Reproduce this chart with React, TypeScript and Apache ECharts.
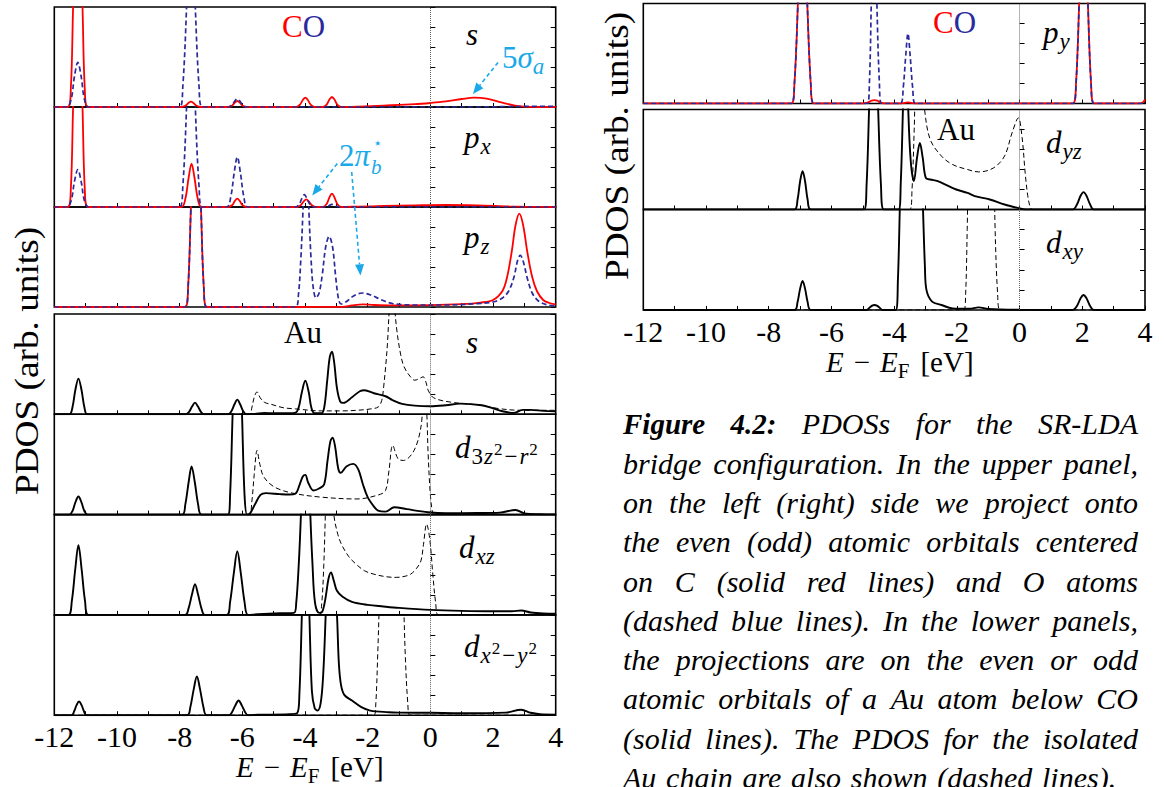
import React, { useEffect, useRef } from 'react';
import * as echarts from 'echarts';

// ---------------- data ----------------
const X_MIN = -12;
const X_MAX = 4;
const X_TICK_LABELS = [-12, -10, -8, -6, -4, -2, 0, 2, 4];
const Y_MAX = 5;

// CO, s (left, panel 1)
const coS_C = [
  [-12, 0], [-11.57, 0], [-11.47, 1.0], [-11.4, 5], [-11.25, 12], [-11.1, 5], [-11.03, 1.0], [-10.93, 0],
  [-7.95, 0], [-7.82, 0.06], [-7.72, 0.2], [-7.64, 0.27], [-7.56, 0.2], [-7.46, 0.06], [-7.33, 0],
  [-6.45, 0], [-6.32, 0.08], [-6.24, 0.22], [-6.16, 0.3], [-6.08, 0.22], [-6.0, 0.08], [-5.87, 0],
  [-4.28, 0], [-4.16, 0.12], [-4.07, 0.35], [-3.99, 0.47], [-3.91, 0.35], [-3.82, 0.12], [-3.7, 0],
  [-3.43, 0], [-3.31, 0.12], [-3.22, 0.37], [-3.14, 0.5], [-3.06, 0.37], [-2.97, 0.12], [-2.85, 0],
  [-2.3, 0.02], [-1.5, 0.07], [-0.5, 0.14], [0, 0.2], [0.5, 0.28], [1.0, 0.4], [1.4, 0.47], [1.8, 0.42],
  [2.3, 0.22], [2.7, 0.07], [3.1, 0.01], [4, 0],
];
const coS_O = [
  [-12, 0], [-11.6, 0], [-11.46, 0.4], [-11.36, 1.5], [-11.25, 2.23], [-11.14, 1.5], [-11.04, 0.4], [-10.9, 0],
  [-8.0, 0], [-7.9, 1.0], [-7.78, 5], [-7.64, 12], [-7.5, 5], [-7.38, 1.0], [-7.28, 0],
  [-6.45, 0], [-6.32, 0.12], [-6.24, 0.3], [-6.16, 0.4], [-6.08, 0.3], [-6.0, 0.12], [-5.87, 0],
  [1.5, 0], [2.5, 0.02], [3.5, 0.03], [4, 0.03],
];
// CO, p_x (left, panel 2)
const coPx_C = [
  [-12, 0], [-11.57, 0], [-11.47, 1.0], [-11.4, 5], [-11.25, 12], [-11.1, 5], [-11.03, 1.0], [-10.93, 0],
  [-7.95, 0], [-7.82, 0.4], [-7.71, 1.5], [-7.62, 2.17], [-7.53, 1.5], [-7.42, 0.4], [-7.3, 0],
  [-6.45, 0], [-6.32, 0.1], [-6.24, 0.3], [-6.16, 0.42], [-6.08, 0.3], [-6.0, 0.1], [-5.87, 0],
  [-4.25, 0], [-4.13, 0.1], [-4.04, 0.28], [-3.96, 0.38], [-3.88, 0.28], [-3.79, 0.1], [-3.67, 0],
  [-3.43, 0], [-3.31, 0.15], [-3.22, 0.48], [-3.14, 0.67], [-3.06, 0.48], [-2.97, 0.15], [-2.85, 0],
  [-2.3, 0.02], [-1.5, 0.05], [-0.5, 0.08], [0.5, 0.1], [1.5, 0.08], [2.5, 0.03], [3.1, 0.01], [4, 0],
];
const coPx_O = [
  [-12, 0], [-11.6, 0], [-11.46, 0.33], [-11.36, 1.25], [-11.25, 1.87], [-11.14, 1.25], [-11.04, 0.33], [-10.9, 0],
  [-8.0, 0], [-7.9, 1.0], [-7.78, 5], [-7.64, 12], [-7.5, 5], [-7.38, 1.0], [-7.28, 0],
  [-6.5, 0], [-6.37, 0.5], [-6.26, 1.7], [-6.16, 2.5], [-6.06, 1.7], [-5.95, 0.5], [-5.82, 0],
  [-4.3, 0], [-4.18, 0.15], [-4.1, 0.43], [-4.02, 0.62], [-3.94, 0.43], [-3.85, 0.15], [-3.72, 0],
  [-3.4, 0], [-3.26, 0.05], [-3.14, 0.13], [-3.02, 0.05], [-2.9, 0], [4, 0],
];
// CO, p_z (left, panel 3)
const coPz_C = [
  [-12, 0], [-7.83, 0], [-7.73, 1.0], [-7.64, 5], [-7.48, 12], [-7.32, 5], [-7.23, 1.0], [-7.13, 0],
  [-4.5, 0], [-2.8, 0.01], [-2.5, 0.08], [-2.15, 0.13], [-1.8, 0.1], [-1.2, 0.08], [0, 0.09], [1.0, 0.14],
  [1.6, 0.22], [2.0, 0.35], [2.3, 0.8], [2.45, 1.5], [2.6, 2.8], [2.72, 4.1], [2.84, 4.67], [2.96, 4.1],
  [3.1, 2.7], [3.25, 1.5], [3.4, 0.8], [3.6, 0.35], [3.8, 0.2], [4, 0.13],
];
const coPz_O = [
  [-12, 0], [-7.83, 0], [-7.73, 1.0], [-7.64, 5], [-7.48, 12], [-7.32, 5], [-7.23, 1.0], [-7.13, 0],
  [-4.3, 0], [-4.21, 0.6], [-4.13, 2.5], [-4.06, 5], [-3.97, 9], [-3.88, 5], [-3.81, 2.5], [-3.74, 1.0],
  [-3.65, 0.45], [-3.55, 0.7], [-3.45, 1.6], [-3.34, 3.0], [-3.23, 3.53], [-3.12, 3.0], [-3.02, 1.5],
  [-2.93, 0.4], [-2.85, 0.15], [-2.7, 0.25], [-2.45, 0.55], [-2.17, 0.7], [-1.9, 0.6], [-1.55, 0.35],
  [-1.2, 0.17], [-0.5, 0.1], [0.5, 0.1], [1.5, 0.17], [2.0, 0.25], [2.3, 0.45], [2.5, 0.8], [2.67, 1.5],
  [2.78, 2.3], [2.87, 2.58], [2.96, 2.3], [3.1, 1.4], [3.25, 0.7], [3.45, 0.3], [3.7, 0.12], [4, 0.05],
];
// Au, s (left, panel 4)
const auS = [
  [-12, 0], [-11.52, 0], [-11.42, 0.35], [-11.33, 1.2], [-11.23, 1.78], [-11.13, 1.2], [-11.04, 0.35], [-10.94, 0],
  [-7.8, 0], [-7.7, 0.12], [-7.6, 0.4], [-7.51, 0.58], [-7.42, 0.4], [-7.32, 0.12], [-7.22, 0],
  [-6.45, 0], [-6.35, 0.15], [-6.25, 0.5], [-6.16, 0.73], [-6.07, 0.5], [-5.97, 0.15], [-5.87, 0],
  [-5.6, 0.02], [-5.3, 0.07], [-5.0, 0.05], [-4.5, 0.05], [-4.3, 0.08],
  [-4.2, 0.35], [-4.1, 1.1], [-3.99, 1.67], [-3.88, 1.1], [-3.8, 0.35], [-3.7, 0.06], [-3.47, 0.05],
  [-3.38, 0.4], [-3.29, 1.7], [-3.21, 2.85], [-3.14, 3.12], [-3.07, 2.6], [-2.98, 1.3], [-2.88, 0.65],
  [-2.78, 0.57], [-2.5, 0.85], [-2.25, 1.15], [-2.1, 1.2], [-1.8, 1.05], [-1.43, 0.9], [-1.2, 0.7],
  [-0.9, 0.52], [-0.5, 0.43], [0, 0.4], [0.5, 0.45], [0.96, 0.53], [1.64, 0.45], [2.0, 0.3], [2.3, 0.15],
  [2.67, 0.07], [2.95, 0.22], [3.2, 0.22], [3.6, 0.17], [4, 0.15],
];
const auS_chain = [
  [-12, 0], [-5.76, 0], [-5.7, 0.3], [-5.62, 0.85], [-5.53, 1.12], [-5.44, 0.85], [-5.3, 0.6], [-5.08, 0.5],
  [-4.7, 0.33], [-4.3, 0.27], [-3.48, 0.17], [-2.8, 0.17], [-2.34, 0.2], [-1.9, 0.27], [-1.66, 0.37],
  [-1.55, 0.7], [-1.49, 1.37], [-1.42, 2.5], [-1.37, 3.5], [-1.3, 5.5], [-1.22, 7], [-1.15, 5.5],
  [-1.07, 4.2], [-0.95, 3.0], [-0.84, 2.37], [-0.65, 1.9], [-0.5, 1.7], [-0.35, 1.78], [-0.23, 1.87],
  [-0.14, 1.6], [-0.07, 1.2], [0.1, 0.83], [0.6, 0.62], [1.6, 0.45], [2.2, 0.28], [2.9, 0.2], [4, 0.2],
];
// Au, d_{3z^2-r^2} (left, panel 5)
const auD3 = [
  [-12, 0], [-11.52, 0], [-11.42, 0.18], [-11.33, 0.6], [-11.23, 0.9], [-11.13, 0.6], [-11.04, 0.18], [-10.94, 0],
  [-7.92, 0], [-7.82, 0.5], [-7.71, 1.65], [-7.62, 2.4], [-7.52, 1.65], [-7.41, 0.5], [-7.3, 0],
  [-6.46, 0], [-6.39, 1.0], [-6.31, 5], [-6.16, 12], [-6.01, 5], [-5.93, 1.0], [-5.85, 0],
  [-5.76, 0.05], [-5.6, 0.5], [-5.42, 0.98], [-5.25, 1.07], [-4.8, 1.02], [-4.5, 1.0], [-4.3, 1.05],
  [-4.17, 1.5], [-4.07, 1.9], [-3.99, 1.98], [-3.9, 1.6], [-3.73, 1.2], [-3.55, 1.3], [-3.39, 1.5],
  [-3.28, 2.7], [-3.19, 3.65], [-3.12, 3.83], [-3.04, 3.4], [-2.94, 2.3], [-2.86, 2.08], [-2.68, 2.4],
  [-2.46, 2.53], [-2.3, 2.25], [-2.15, 1.5], [-2.0, 0.87], [-1.8, 0.4], [-1.67, 0.2], [-1.43, 0.15],
  [-1.15, 0.37], [-0.75, 0.27], [-0.07, 0.12], [0.5, 0.07], [1.5, 0.08], [2.21, 0.1], [2.72, 0.23],
  [3.0, 0.06], [3.5, 0.02], [4, 0.01],
];
const auD3_chain = [
  [-12, 0], [-5.78, 0], [-5.7, 0.6], [-5.62, 2.0], [-5.53, 3.2], [-5.44, 2.5], [-5.31, 1.87], [-4.97, 1.37],
  [-4.39, 1.07], [-3.48, 0.87], [-2.34, 0.78], [-1.66, 0.98], [-1.43, 1.2], [-1.32, 2.2], [-1.2, 3.45],
  [-1.03, 2.78], [-0.86, 2.7], [-0.52, 3.2], [-0.3, 4.37], [-0.2, 6], [-0.13, 5.5], [-0.07, 3.0],
  [0.0, 1.0], [0.07, 0.1], [0.12, 0], [4, 0],
];
// Au, d_xz (left, panel 6)
const auDxz = [
  [-12, 0], [-11.55, 0], [-11.44, 0.7], [-11.33, 2.3], [-11.23, 3.48], [-11.13, 2.3], [-11.02, 0.7], [-10.91, 0],
  [-7.82, 0], [-7.72, 0.3], [-7.61, 1.0], [-7.51, 1.53], [-7.41, 1.0], [-7.3, 0.3], [-7.2, 0],
  [-6.5, 0], [-6.39, 0.65], [-6.27, 2.1], [-6.16, 3.17], [-6.05, 2.1], [-5.93, 0.65], [-5.82, 0],
  [-5.5, 0.03], [-4.8, 0.08], [-4.35, 0.1],
  [-4.28, 0.6], [-4.2, 2.5], [-4.13, 5], [-3.98, 12], [-3.83, 5], [-3.76, 2.5], [-3.68, 0.6], [-3.55, 0.1],
  [-3.45, 0.15], [-3.35, 0.8], [-3.25, 1.8], [-3.17, 2.12], [-3.08, 1.7], [-2.98, 1.2], [-2.8, 0.9],
  [-2.5, 0.65], [-2.0, 0.5], [-1.5, 0.42], [-1.0, 0.35], [0, 0.25], [1.0, 0.2], [2.0, 0.18], [2.6, 0.18],
  [2.9, 0.22], [3.2, 0.12], [3.6, 0.07], [4, 0.06],
];
const auDxz_chain = [
  [-12, 0], [-3.55, 0], [-3.47, 0.5], [-3.4, 2.5], [-3.33, 6], [-3.25, 9], [-3.16, 7], [-3.08, 5],
  [-2.95, 4.0], [-2.83, 3.5], [-2.6, 2.9], [-2.37, 2.53], [-2.1, 2.2], [-1.8, 2.03], [-1.4, 1.9],
  [-1.09, 1.87], [-0.8, 1.93], [-0.63, 2.03], [-0.45, 2.3], [-0.3, 2.7], [-0.22, 3.5], [-0.12, 4.53],
  [-0.02, 3.8], [0.08, 2.0], [0.17, 0.6], [0.26, 0], [4, 0],
];
// Au, d_{x^2-y^2} (left, panel 7)
const auDx2 = [
  [-12, 0], [-11.45, 0], [-11.36, 0.22], [-11.29, 0.5], [-11.21, 0.68], [-11.13, 0.5], [-11.06, 0.22], [-10.97, 0],
  [-7.76, 0], [-7.66, 0.4], [-7.55, 1.3], [-7.45, 1.93], [-7.35, 1.3], [-7.24, 0.4], [-7.14, 0],
  [-6.42, 0], [-6.33, 0.15], [-6.22, 0.5], [-6.12, 0.73], [-6.02, 0.5], [-5.91, 0.15], [-5.82, 0],
  [-5.5, 0.02], [-4.5, 0.05], [-4.25, 0.1], [-4.18, 1.0], [-4.1, 5], [-3.98, 11], [-3.86, 5], [-3.78, 1.2],
  [-3.69, 0.35], [-3.6, 0.23], [-3.5, 0.6], [-3.42, 2.0], [-3.34, 5], [-3.25, 9], [-3.1, 8], [-2.98, 5],
  [-2.92, 2.6], [-2.85, 1.5], [-2.74, 1.0], [-2.5, 0.73], [-2.2, 0.4], [-1.92, 0.23], [-1.33, 0.15],
  [-1.0, 0.13], [0, 0.12], [1, 0.1], [2.4, 0.13], [2.9, 0.27], [3.2, 0.12], [3.5, 0.05], [4, 0.03],
];
const auDx2_chain = [
  [-12, 0], [-1.8, 0], [-1.74, 0.6], [-1.68, 3], [-1.62, 6], [-1.5, 12], [-1.0, 12], [-0.86, 6],
  [-0.8, 3], [-0.72, 0.6], [-0.65, 0], [4, 0],
];
// CO, p_y (right, panel 1)
const coPy_C = [
  [-12, 0], [-7.28, 0], [-7.18, 1.0], [-7.07, 5], [-6.92, 12], [-6.77, 5], [-6.66, 1.0], [-6.56, 0],
  [-5.0, 0], [-4.85, 0.04], [-4.72, 0.14], [-4.63, 0.17], [-4.54, 0.14], [-4.42, 0.04], [-4.3, 0],
  [-3.8, 0], [-3.66, 0.03], [-3.56, 0.06], [-3.46, 0.03], [-3.3, 0],
  [1.7, 0], [1.8, 1.0], [1.9, 5], [2.04, 12], [2.18, 5], [2.28, 1.0], [2.38, 0], [3.85, 0], [3.95, 0.08], [4, 0.2],
];
const coPy_O = [
  [-12, 0], [-7.28, 0], [-7.18, 1.0], [-7.07, 5], [-6.92, 12], [-6.77, 5], [-6.66, 1.0], [-6.56, 0],
  [-4.86, 0], [-4.79, 1.0], [-4.73, 5], [-4.64, 12], [-4.55, 5], [-4.47, 1.0], [-4.4, 0],
  [-3.8, 0], [-3.71, 0.8], [-3.63, 2.4], [-3.56, 3.5], [-3.49, 2.4], [-3.41, 0.8], [-3.32, 0],
  [1.7, 0], [1.8, 1.0], [1.9, 5], [2.04, 12], [2.18, 5], [2.28, 1.0], [2.38, 0], [4, 0],
];
// Au, d_yz (right, panel 2)
const auDyz = [
  [-12, 0], [-7.18, 0], [-7.08, 0.5], [-7.0, 1.4], [-6.92, 1.92], [-6.84, 1.4], [-6.76, 0.5], [-6.66, 0],
  [-4.96, 0], [-4.88, 1.2], [-4.8, 5], [-4.66, 12], [-4.51, 5], [-4.42, 1.2], [-4.33, 0],
  [-3.86, 0], [-3.79, 1.3], [-3.72, 5], [-3.63, 10], [-3.55, 5], [-3.47, 2.4], [-3.37, 1.42], [-3.27, 2.6],
  [-3.18, 3.33], [-3.09, 2.6], [-2.99, 1.58], [-2.85, 1.5], [-2.61, 1.42], [-2.26, 1.17], [-2.02, 1.0],
  [-1.66, 0.83], [-1.43, 0.67], [-0.95, 0.5], [-0.48, 0.25], [-0.06, 0.08], [0.2, 0],
  [1.7, 0], [1.83, 0.25], [1.95, 0.7], [2.04, 0.87], [2.13, 0.7], [2.25, 0.25], [2.37, 0], [4, 0],
];
const auDyz_chain = [
  [-12, 0], [-3.5, 0], [-3.43, 1.0], [-3.36, 4], [-3.28, 8], [-3.15, 7], [-3.03, 5], [-2.85, 3.5],
  [-2.49, 2.67], [-2.14, 2.25], [-1.66, 2.0], [-1.31, 1.88], [-0.83, 2.08], [-0.48, 2.67], [-0.24, 3.83],
  [-0.04, 4.58], [0.08, 3.6], [0.18, 1.8], [0.26, 0.7], [0.34, 0.1], [0.4, 0], [4, 0],
];
// Au, d_xy (right, panel 3)
const auDxy = [
  [-12, 0], [-7.18, 0], [-7.08, 0.4], [-7.0, 1.05], [-6.92, 1.45], [-6.84, 1.05], [-6.76, 0.4], [-6.66, 0],
  [-4.88, 0], [-4.78, 0.12], [-4.7, 0.22], [-4.63, 0.25], [-4.55, 0.22], [-4.47, 0.12], [-4.37, 0],
  [-3.95, 0], [-3.88, 1.5], [-3.82, 5], [-3.75, 9], [-3.4, 10], [-3.15, 8], [-3.08, 5], [-3.02, 2.2],
  [-2.97, 1.0], [-2.79, 0.42], [-2.49, 0.25], [-2.14, 0.08], [-1.6, 0.06], [-1.31, 0.13], [-1.0, 0.05], [0, 0.01],
  [1.7, 0], [1.83, 0.2], [1.95, 0.6], [2.04, 0.75], [2.13, 0.6], [2.25, 0.2], [2.37, 0], [4, 0],
];
const auDxy_chain = [
  [-12, 0], [-1.78, 0], [-1.72, 0.8], [-1.67, 4], [-1.6, 9], [-1.2, 12], [-0.85, 9], [-0.78, 4],
  [-0.7, 0.8], [-0.62, 0], [4, 0],
];

const PANEL_SERIES: [string, number[][]][][] = [
  [['C', coS_C], ['O', coS_O]],
  [['C', coPx_C], ['O', coPx_O]],
  [['C', coPz_C], ['O', coPz_O]],
  [['chain', auS_chain], ['Au', auS]],
  [['chain', auD3_chain], ['Au', auD3]],
  [['chain', auDxz_chain], ['Au', auDxz]],
  [['chain', auDx2_chain], ['Au', auDx2]],
  [['C', coPy_C], ['O', coPy_O]],
  [['chain', auDyz_chain], ['Au', auDyz]],
  [['chain', auDxy_chain], ['Au', auDxy]],
];

const CAPTION_LINES = [
  'Figure 4.2: PDOSs for the SR-LDA',
  'bridge configuration. In the upper panel,',
  'on the left (right) side we project onto',
  'the even (odd) atomic orbitals centered',
  'on C (solid red lines) and O atoms',
  '(dashed blue lines). In the lower panels,',
  'the projections are on the even or odd',
  'atomic orbitals of a Au atom below CO',
  '(solid lines). The PDOS for the isolated',
  'Au chain are also shown (dashed lines).',
];

// annotation arrows in data coordinates: [grid, x, y]
const ARROWS = [
  { from: [0, 2.16, 2.23], to: [0, 1.36, 0.65] },
  { from: [1, -2.97, 2.17], to: [1, -3.77, 0.58] },
  { from: [1, -2.51, 1.75], to: [2, -2.23, 1.58] },
];

// ---------------- layout & style ----------------
const W = 1164;
const H = 787;
const FONT = 'Liberation Serif, DejaVu Serif, serif';
const RED = '#ff0000';
const BLUE = '#2a2a9c';
const CYAN = '#1aa9e8';

const GRIDS = [
  { left: 54.3, top: 7, width: 501.4, height: 100 },
  { left: 54.3, top: 107, width: 501.4, height: 100 },
  { left: 54.3, top: 207, width: 501.4, height: 100 },
  { left: 54.3, top: 314, width: 501.4, height: 100.3 },
  { left: 54.3, top: 414.3, width: 501.4, height: 100.3 },
  { left: 54.3, top: 514.6, width: 501.4, height: 100.3 },
  { left: 54.3, top: 614.9, width: 501.4, height: 100.3 },
  { left: 643.3, top: 3.5, width: 501.7, height: 100 },
  { left: 643.3, top: 109.5, width: 501.7, height: 100 },
  { left: 643.3, top: 209.5, width: 501.7, height: 100.5 },
];
const LABEL_GRIDS = [6, 9];

const LINE_STYLES: Record<string, any> = {
  C: { color: RED, width: 1.8, type: 'solid' },
  O: { color: BLUE, width: 1.7, type: [5, 3] },
  Au: { color: '#000', width: 1.9, type: 'solid' },
  chain: { color: '#000', width: 1, type: [5, 3] },
};

let measureCtx: CanvasRenderingContext2D | null = null;
function measure(text: string, style: string, weight: string, size: number) {
  if (!measureCtx) measureCtx = document.createElement('canvas').getContext('2d');
  measureCtx!.font = `${style} ${weight} ${size}px ${FONT}`;
  return measureCtx!.measureText(text).width;
}

const BASE_K = 0.3375; // central -> alphabetic baseline offset (em)

type Piece = { t: string; s: number; it?: boolean; b?: boolean; dy?: number; dx?: number; c?: string; back?: boolean };
function mathText(x: number, base: number, pieces: Piece[], color = '#000') {
  const els: any[] = [];
  let cx = x;
  let prevX = x;
  for (const p of pieces) {
    const fs = p.it ? 'italic' : 'normal';
    const fw = p.b ? 'bold' : 'normal';
    if (p.back) cx = prevX;
    cx += p.dx ?? 0;
    const w = measure(p.t, fs, fw, p.s);
    els.push({
      type: 'text', x: cx, y: base + (p.dy ?? 0) - BASE_K * p.s, silent: true, z: 50,
      style: {
        text: p.t, fill: p.c ?? color, fontSize: p.s, fontFamily: FONT, fontStyle: fs, fontWeight: fw,
        lineHeight: Math.round(p.s * 0.78), align: 'left', verticalAlign: 'middle',
      },
    });
    prevX = cx;
    cx += w;
  }
  return els;
}

const M = 31;
const S = 23;
const SS = 17;
const AX = 29;

function labelElements() {
  const els: any[] = [];
  // CO labels
  els.push(...mathText(282, 37, [{ t: 'C', s: M, c: RED }, { t: 'O', s: M, c: BLUE }]));
  els.push(...mathText(933, 33, [{ t: 'C', s: M, c: RED }, { t: 'O', s: M, c: BLUE }]));
  // Au labels
  els.push(...mathText(284, 343, [{ t: 'Au', s: M }]));
  els.push(...mathText(937, 140, [{ t: 'Au', s: M }]));
  // orbital labels
  els.push(...mathText(466, 45, [{ t: 's', s: M, it: true }]));
  els.push(...mathText(464, 148, [{ t: 'p', s: M, it: true }, { t: 'x', s: S, it: true, dy: 6, dx: 1 }]));
  els.push(...mathText(464, 248, [{ t: 'p', s: M, it: true }, { t: 'z', s: S, it: true, dy: 6, dx: 1 }]));
  els.push(...mathText(466, 353, [{ t: 's', s: M, it: true }]));
  els.push(...mathText(455, 458, [
    { t: 'd', s: M, it: true }, { t: '3', s: S, dy: 6, dx: 1 }, { t: 'z', s: S, it: true, dy: 6, dx: 1 },
    { t: '2', s: SS, dy: -3, dx: 1 }, { t: '−', s: S, dy: 6, dx: 2 }, { t: 'r', s: S, it: true, dy: 6, dx: 2 },
    { t: '2', s: SS, dy: -3, dx: 1 },
  ]));
  els.push(...mathText(459, 558, [{ t: 'd', s: M, it: true }, { t: 'xz', s: S, it: true, dy: 6, dx: 1 }]));
  els.push(...mathText(464, 657, [
    { t: 'd', s: M, it: true }, { t: 'x', s: S, it: true, dy: 6, dx: 1 }, { t: '2', s: SS, dy: -3, dx: 1 },
    { t: '−', s: S, dy: 6, dx: 2 }, { t: 'y', s: S, it: true, dy: 6, dx: 2 }, { t: '2', s: SS, dy: -3, dx: 1 },
  ]));
  els.push(...mathText(1043, 43, [{ t: 'p', s: M, it: true }, { t: 'y', s: S, it: true, dy: 6, dx: 1 }]));
  els.push(...mathText(1046, 153, [{ t: 'd', s: M, it: true }, { t: 'yz', s: S, it: true, dy: 6, dx: 1 }]));
  els.push(...mathText(1046, 253, [{ t: 'd', s: M, it: true }, { t: 'xy', s: S, it: true, dy: 6, dx: 1 }]));
  // annotations
  els.push(...mathText(502, 68, [{ t: '5', s: M }, { t: 'σ', s: M, it: true }, { t: 'a', s: S, it: true, dy: 6 }], CYAN));
  els.push(...mathText(339, 166, [
    { t: '2', s: M }, { t: 'π', s: M, it: true }, { t: 'b', s: 21, it: true, dy: 8, dx: 1 },
    { t: '⋆', s: 15, dy: -18, back: true, dx: 2 },
  ], CYAN));
  // axis titles
  const axisTitle = (x: number, base: number) => mathText(x, base, [
    { t: 'E', s: AX, it: true }, { t: '−', s: AX, dx: 10 }, { t: 'E', s: AX, it: true, dx: 10 },
    { t: 'F', s: 21, dy: 6 }, { t: '[eV]', s: AX, dx: 11 },
  ]);
  els.push(...axisTitle(236, 777));
  els.push(...axisTitle(826, 372));
  // y titles
  const yTitle = (x: number, y: number) => ({
    type: 'text', x, y, rotation: Math.PI / 2, scaleX: 1.13, silent: true, z: 50,
    style: { text: 'PDOS (arb. units)', fill: '#000', fontSize: 33, fontFamily: FONT, lineHeight: 26, align: 'center', verticalAlign: 'middle' },
  });
  els.push(yTitle(27, 361));
  els.push(yTitle(617, 146));
  return els;
}

const CAP_X = 623;
const CAP_W = 515;
const CAP_Y0 = 434;
const CAP_DY = 39.3;
const CAP_SIZE = 30;
const CAP_BOLD_SIZE = 29;

function captionElements() {
  const els: any[] = [];
  CAPTION_LINES.forEach((line, li) => {
    const words = line.split(' ');
    const bold = words.map((_, wi) => li === 0 && wi < 2);
    const sizes = bold.map((b) => (b ? CAP_BOLD_SIZE : CAP_SIZE));
    const widths = words.map((w, i) => measure(w, 'italic', bold[i] ? 'bold' : 'normal', sizes[i]));
    const total = widths.reduce((a, b) => a + b, 0);
    const justify = li < CAPTION_LINES.length - 1;
    const gap = justify ? (CAP_W - total) / (words.length - 1) : measure(' ', 'italic', 'normal', CAP_SIZE) * 1.3;
    let x = CAP_X;
    const base = CAP_Y0 + li * CAP_DY;
    words.forEach((w, i) => {
      els.push({
        type: 'text', x, y: base - BASE_K * sizes[i], silent: true, z: 50,
        style: {
          text: w, fill: '#000', fontSize: sizes[i], fontFamily: FONT, fontStyle: 'italic',
          fontWeight: bold[i] ? 'bold' : 'normal', lineHeight: 24, align: 'left', verticalAlign: 'middle',
        },
      });
      x += widths[i] + gap;
    });
  });
  return els;
}

function arrowElements(chart: any) {
  const els: any[] = [];
  for (const a of ARROWS) {
    const p0 = chart.convertToPixel({ xAxisIndex: a.from[0], yAxisIndex: 2 * a.from[0] }, [a.from[1], a.from[2]]);
    const p1 = chart.convertToPixel({ xAxisIndex: a.to[0], yAxisIndex: 2 * a.to[0] }, [a.to[1], a.to[2]]);
    const dx = p1[0] - p0[0];
    const dy = p1[1] - p0[1];
    const L = Math.hypot(dx, dy);
    const ux = dx / L;
    const uy = dy / L;
    const hl = 11;
    const hw = 4.5;
    const bx = p1[0] - ux * hl;
    const by = p1[1] - uy * hl;
    els.push({
      type: 'line', silent: true, z: 40,
      shape: { x1: p0[0], y1: p0[1], x2: bx, y2: by },
      style: { stroke: CYAN, lineWidth: 1.6, lineDash: [4, 3] },
    });
    els.push({
      type: 'polygon', silent: true, z: 40,
      shape: { points: [[p1[0], p1[1]], [bx - uy * hw, by + ux * hw], [bx + uy * hw, by - ux * hw]] },
      style: { fill: CYAN },
    });
  }
  return els;
}

function buildOption() {
  const grid = GRIDS.map((g) => ({ ...g, show: true, borderColor: '#000', borderWidth: 1.6, backgroundColor: 'transparent' }));
  const xAxis = GRIDS.map((_, i) => ({
    type: 'value', gridIndex: i, min: X_MIN, max: X_MAX, interval: 1,
    axisLine: { show: false },
    splitLine: { show: false },
    axisTick: { show: true, inside: true, length: 4, lineStyle: { color: '#000', width: 1 } },
    axisLabel: LABEL_GRIDS.includes(i)
      ? {
          show: true, margin: 9, fontSize: 30, lineHeight: 24, fontFamily: FONT, color: '#000',
          formatter: (v: number) => (X_TICK_LABELS.includes(v) ? String(v) : ''),
        }
      : { show: false },
  }));
  const yAxis: any[] = [];
  GRIDS.forEach((_, i) => {
    ['left', 'right'].forEach((pos) => {
      yAxis.push({
        type: 'value', gridIndex: i, position: pos, min: 0, max: Y_MAX, interval: 1,
        axisLine: { show: false }, splitLine: { show: false }, axisLabel: { show: false },
        axisTick: { show: true, inside: true, length: 5, lineStyle: { color: '#000', width: 1 } },
      });
    });
  });
  const series: any[] = [];
  PANEL_SERIES.forEach((list, gi) => {
    list.forEach(([kind, data], si) => {
      const ls = LINE_STYLES[kind];
      series.push({
        type: 'line', xAxisIndex: gi, yAxisIndex: 2 * gi, data,
        showSymbol: false, symbol: 'none', smooth: 0.35, silent: true, clip: true,
        z: kind === 'O' || kind === 'Au' ? 4 : 3,
        lineStyle: { color: ls.color, width: ls.width, type: ls.type },
        itemStyle: { color: ls.color },
        markLine: si === 0
          ? {
              silent: true, symbol: 'none', label: { show: false },
              lineStyle: { type: 'dotted', color: '#666', width: 1 },
              data: [{ xAxis: 0 }],
            }
          : undefined,
      });
    });
  });
  return { animation: false, backgroundColor: '#fff', grid, xAxis, yAxis, series };
}

export default function App() {
  const ref = useRef<HTMLDivElement>(null);
  useEffect(() => {
    const chart = echarts.init(ref.current!, null, { renderer: 'svg', width: W, height: H });
    chart.setOption(buildOption() as any);
    const elements = [...labelElements(), ...captionElements(), ...arrowElements(chart)];
    chart.setOption({ graphic: { elements } } as any);
    return () => chart.dispose();
  }, []);
  return <div ref={ref} style={{ position: 'absolute', left: 0, top: 0, width: W, height: H, background: '#fff' }} />;
}
